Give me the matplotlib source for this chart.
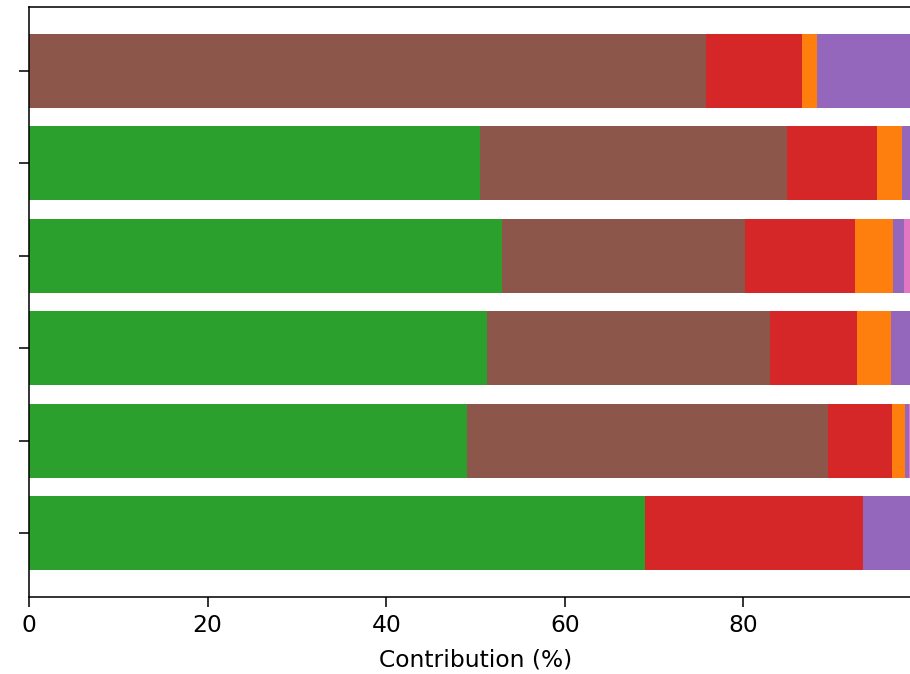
import matplotlib
matplotlib.use("Agg")
import matplotlib.pyplot as plt
import numpy as np

# Rows listed bottom to top (barh draws index 0 at the bottom)
rows = ["R1", "R2", "R3", "R4", "R5", "R6"]

green  = [69.0, 49.0, 51.3, 53.0, 50.5, 0.0]
brown  = [0.0, 40.5, 31.7, 27.2, 34.4, 75.8]
red    = [24.4, 7.1, 9.7, 12.3, 10.1, 10.8]
orange = [0.0, 1.5, 3.8, 4.2, 2.8, 1.6]
purple = [6.6, 0.5, 3.5, 1.3, 2.2, 11.8]
pink   = [0.0, 1.4, 0.0, 2.0, 0.0, 0.0]

series = [
    (green, "#2ca02c"),
    (brown, "#8c564b"),
    (red, "#d62728"),
    (orange, "#ff7f0e"),
    (purple, "#9467bd"),
    (pink, "#e377c2"),
]

xticks = [0, 20, 40, 60, 80]

plt.rcParams["font.size"] = 12

dpi = 140
fig = plt.figure(figsize=(910 / dpi, 674 / dpi), dpi=dpi)
# Axes run past the right edge of the canvas
ax = fig.add_axes([29 / 910, 77 / 674, 893 / 910, 590 / 674])

y = np.arange(len(rows))
left = np.zeros(len(rows))
for vals, color in series:
    vals = np.asarray(vals)
    ax.barh(y, vals, left=left, height=0.8, color=color)
    left += vals

ax.set_xlim(0, 100)
ax.set_xticks(xticks)
ax.set_yticks(y)
ax.set_yticklabels([])
ax.tick_params(length=5)
ax.set_xlabel("Contribution (%)", labelpad=6)

fig.savefig("out.png", dpi=dpi)
